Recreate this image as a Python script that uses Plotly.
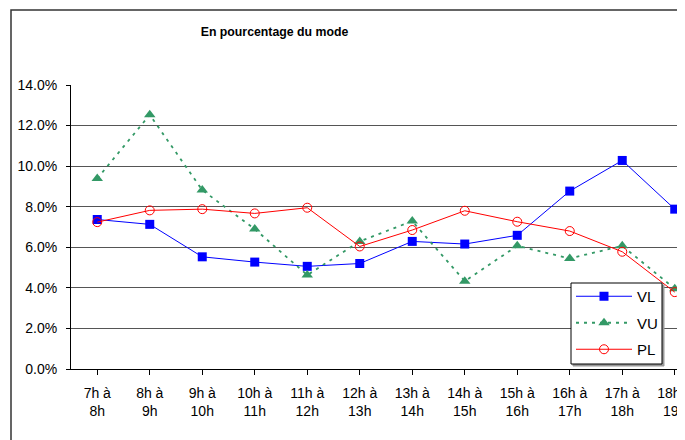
import plotly.graph_objects as go

categories = ["7h à<br>8h", "8h à<br>9h", "9h à<br>10h", "10h à<br>11h", "11h à<br>12h",
              "12h à<br>13h", "13h à<br>14h", "14h à<br>15h", "15h à<br>16h", "16h à<br>17h",
              "17h à<br>18h", "18h à<br>19h"]
vl = [7.37, 7.13, 5.53, 5.27, 5.06, 5.20, 6.29, 6.16, 6.59, 8.77, 10.28, 7.88]
vu = [9.39, 12.53, 8.82, 6.90, 4.63, 6.29, 7.29, 4.33, 6.07, 5.45, 6.07, 3.96]
pl = [7.24, 7.82, 7.88, 7.67, 7.95, 6.04, 6.85, 7.80, 7.26, 6.80, 5.78, 3.79]
y_ticks = [0, 2, 4, 6, 8, 10, 12, 14]
y_labels = [f"{v:.1f}%" for v in y_ticks]

# the page body has an 8px margin, so figure coords = page coords - 8
OFF = 8
L, T, B = 71 - OFF, 85 - OFF, 369 - OFF
W, H = 685, 440
PW = W - L
PH = B - T
cat_w = 52.5

def px_x(p):
    return (p - OFF - L) / PW

def px_y(p):
    return (B - (p - OFF)) / PH

x = list(range(len(categories)))
fig = go.Figure()
fig.add_trace(go.Scatter(x=x, y=vl, name="VL", legendgroup="a", mode="lines+markers",
                         line=dict(color="#0000FF", width=1),
                         marker=dict(symbol="square", size=9, color="#0000FF")))
fig.add_trace(go.Scatter(x=x, y=vu, name="VU", legendgroup="b", mode="lines+markers",
                         line=dict(color="#339966", width=1.8, dash="3px,5px"),
                         marker=dict(symbol="triangle-up", size=10, color="#339966")))
fig.add_trace(go.Scatter(x=x, y=pl, name="PL", legendgroup="c", mode="lines+markers",
                         line=dict(color="#FF0000", width=1),
                         marker=dict(symbol="circle-open", size=9, color="#FF0000", line=dict(width=1))))

fig.update_layout(
    width=W, height=H, autosize=False,
    margin=dict(l=L, r=0, t=T, b=H - B, pad=0),
    paper_bgcolor="white", plot_bgcolor="white",
    font=dict(family="Liberation Sans, Arial, sans-serif", size=14, color="black"),
    title=dict(text="<b>En pourcentage du mode</b>", font=dict(size=12.3),
               x=(274.5 - OFF) / W, xanchor="center", xref="container",
               y=1 - (32 - OFF) / H, yanchor="middle", yref="container"),
    showlegend=True,
    legend=dict(x=px_x(571), y=px_y(280), xanchor="left", yanchor="top",
                bgcolor="rgba(0,0,0,0)", borderwidth=0,
                itemwidth=56, font=dict(size=15), tracegroupgap=4),
)
fig.update_xaxes(
    range=[-0.5, -0.5 + PW / cat_w],
    tickmode="array", tickvals=x, ticktext=categories,
    tickson="boundaries", ticks="outside", ticklen=5, tickcolor="black",
    showline=True, linecolor="black", linewidth=1,
    showgrid=False, zeroline=False, ticklabelstandoff=6,
)
fig.update_yaxes(
    range=[0, 14], tickmode="array", tickvals=y_ticks, ticktext=y_labels,
    ticks="outside", ticklen=4, tickcolor="black",
    showline=True, linecolor="black", linewidth=1,
    showgrid=True, gridcolor="#555555", gridwidth=1,
    zeroline=False, ticklabelstandoff=6,
)
# outer chart border (cropped on right and bottom)
fig.add_shape(type="rect", xref="paper", yref="paper",
              x0=px_x(11), x1=1.2, y0=-0.5, y1=px_y(10),
              line=dict(color="#333333", width=1.5), fillcolor="rgba(0,0,0,0)", layer="below")
# legend box (shadow + frame)
fig.add_shape(type="rect", xref="paper", yref="paper",
              x0=px_x(573), x1=px_x(664), y0=px_y(366), y1=px_y(285),
              line=dict(color="#999999", width=1), fillcolor="#999999", layer="above")
fig.add_shape(type="rect", xref="paper", yref="paper",
              x0=px_x(571), x1=px_x(662), y0=px_y(364), y1=px_y(283),
              line=dict(color="black", width=1), fillcolor="white", layer="above")

fig.write_html("out.html")
